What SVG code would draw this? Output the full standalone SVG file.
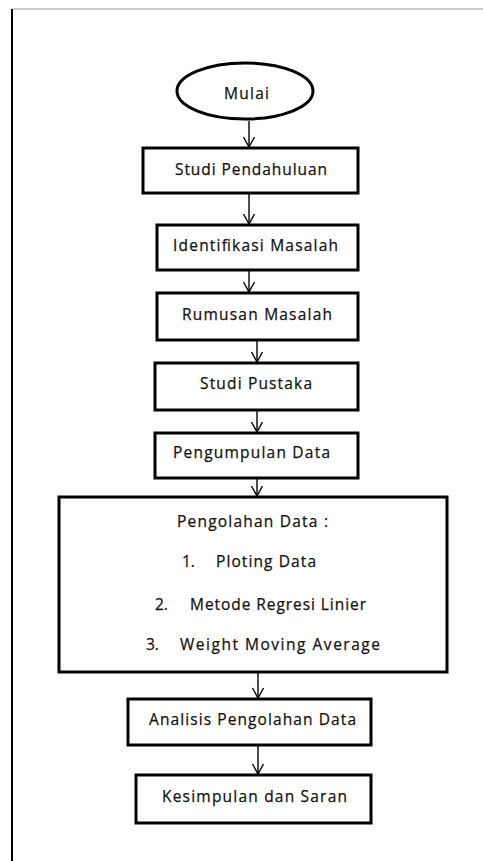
<svg xmlns="http://www.w3.org/2000/svg" width="483" height="861" viewBox="0 0 483 861">
<style>
.box{fill:#fff;stroke:#000;stroke-width:3}
.t{font-family:"Open Sans","Liberation Sans",sans-serif;font-size:15.5px;fill:#111;stroke:#111;stroke-width:0.25}
.c{stroke:#000;stroke-width:1.4;fill:none}
</style>
<defs>
<marker id="ah" markerWidth="14" markerHeight="14" refX="11" refY="7" orient="auto" markerUnits="userSpaceOnUse" viewBox="0 0 14 14">
<path d="M1,1.5 L11,7 L1,12.5" fill="none" stroke="#000" stroke-width="1.4"/>
</marker>
</defs>
<rect width="483" height="861" fill="#fff"/>
<g id="frame">
<line x1="12" y1="9" x2="483" y2="9" stroke="#999" stroke-width="1"/>
<line x1="12" y1="9" x2="12" y2="861" stroke="#000" stroke-width="2"/>
</g>
<g id="connectors">
<line class="c" x1="249" y1="121" x2="249" y2="147" marker-end="url(#ah)"/>
<line class="c" x1="249" y1="194" x2="249" y2="224" marker-end="url(#ah)"/>
<line class="c" x1="249" y1="271" x2="249" y2="292" marker-end="url(#ah)"/>
<line class="c" x1="257" y1="341" x2="257" y2="362" marker-end="url(#ah)"/>
<line class="c" x1="257" y1="411" x2="257" y2="432" marker-end="url(#ah)"/>
<line class="c" x1="257" y1="479" x2="257" y2="496" marker-end="url(#ah)"/>
<line class="c" x1="258" y1="673" x2="258" y2="698" marker-end="url(#ah)"/>
<line class="c" x1="258" y1="746" x2="258" y2="774" marker-end="url(#ah)"/>
</g>
<g id="mulai">
<ellipse class="box" cx="245" cy="91" rx="68" ry="28"/>
<text class="t" x="224" y="99" textLength="45" lengthAdjust="spacing">Mulai</text>
</g>
<g id="studi-pendahuluan">
<rect class="box" x="143" y="148" width="215" height="45"/>
<text class="t" x="175" y="175" textLength="152" lengthAdjust="spacing">Studi Pendahuluan</text>
</g>
<g id="identifikasi-masalah">
<rect class="box" x="157" y="225" width="201" height="45"/>
<text class="t" x="173" y="251" textLength="165" lengthAdjust="spacing">Identifikasi Masalah</text>
</g>
<g id="rumusan-masalah">
<rect class="box" x="157" y="293" width="201" height="47"/>
<text class="t" x="182" y="320" textLength="150" lengthAdjust="spacing">Rumusan Masalah</text>
</g>
<g id="studi-pustaka">
<rect class="box" x="155" y="363" width="203" height="47"/>
<text class="t" x="200" y="389" textLength="112" lengthAdjust="spacing">Studi Pustaka</text>
</g>
<g id="pengumpulan-data">
<rect class="box" x="155" y="433" width="203" height="45"/>
<text class="t" x="173" y="458" textLength="157" lengthAdjust="spacing">Pengumpulan Data</text>
</g>
<g id="pengolahan-data">
<rect class="box" x="59" y="497" width="388" height="175"/>
<text class="t" x="177" y="527" textLength="151" lengthAdjust="spacing">Pengolahan Data :</text>
<text class="t" x="182" y="567">1.</text>
<text class="t" x="216" y="567" textLength="100" lengthAdjust="spacing">Ploting Data</text>
<text class="t" x="155" y="610">2.</text>
<text class="t" x="190" y="610" textLength="176" lengthAdjust="spacing">Metode Regresi Linier</text>
<text class="t" x="146" y="650">3.</text>
<text class="t" x="180" y="650" textLength="200" lengthAdjust="spacing">Weight Moving Average</text>
</g>
<g id="analisis">
<rect class="box" x="128" y="699" width="243" height="46"/>
<text class="t" x="149" y="725" textLength="207" lengthAdjust="spacing">Analisis Pengolahan Data</text>
</g>
<g id="kesimpulan">
<rect class="box" x="136" y="775" width="235" height="48"/>
<text class="t" x="162" y="802" textLength="185" lengthAdjust="spacing">Kesimpulan dan Saran</text>
</g>
</svg>
